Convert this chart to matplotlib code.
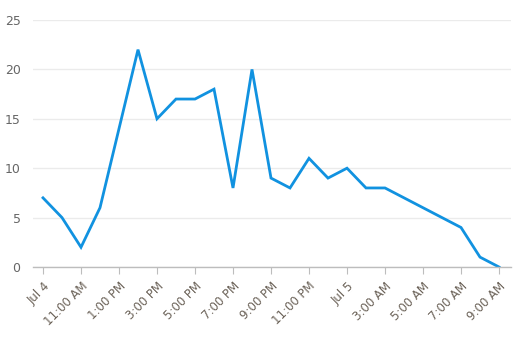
import matplotlib
matplotlib.use("Agg")
import matplotlib.pyplot as plt
import numpy as np

hours = list(range(25))  # hours since Jul 4, 9:00 AM
values = [7, 5, 2, 6, 14, 22, 15, 17, 17, 18, 8, 20, 9, 8, 11, 9, 10, 8, 8, 7, 6, 5, 4, 1, 0]
tick_hours = [0, 2, 4, 6, 8, 10, 12, 14, 16, 18, 20, 22, 24]
tick_labels = ["Jul 4", "11:00 AM", "1:00 PM", "3:00 PM", "5:00 PM", "7:00 PM",
               "9:00 PM", "11:00 PM", "Jul 5", "3:00 AM", "5:00 AM", "7:00 AM", "9:00 AM"]
y_ticks = [0, 5, 10, 15, 20, 25]

W, H = 520, 338
fig = plt.figure(figsize=(W / 100, H / 100), dpi=100)
left, right, top, bottom = 33, 511, 20, 267
ax = fig.add_axes([left / W, 1 - bottom / H, (right - left) / W, (bottom - top) / H])

ax.plot(hours, values, color="#1192e0", linewidth=2.0, solid_joinstyle="miter")

ax.set_xlim(-10 / 19, 24 + 12 / 19)
ax.set_ylim(0, 25)
ax.set_yticks(y_ticks)
ax.set_xticks(tick_hours)
ax.set_xticklabels(tick_labels, rotation=45, ha="right", va="top", rotation_mode="anchor")

ax.grid(axis="y", color="#ebebeb", linewidth=1)
ax.set_axisbelow(True)
for s in ["top", "right", "left"]:
    ax.spines[s].set_visible(False)
ax.spines["bottom"].set_color("#bdbdbd")
ax.spines["bottom"].set_linewidth(1)

ax.tick_params(axis="y", length=0, pad=9, labelsize=9, labelcolor="#666666")
ax.tick_params(axis="x", length=5, color="#bdbdbd", pad=4, labelsize=8.5, labelcolor="#6b6258")

fig.savefig("out.png", dpi=100)
